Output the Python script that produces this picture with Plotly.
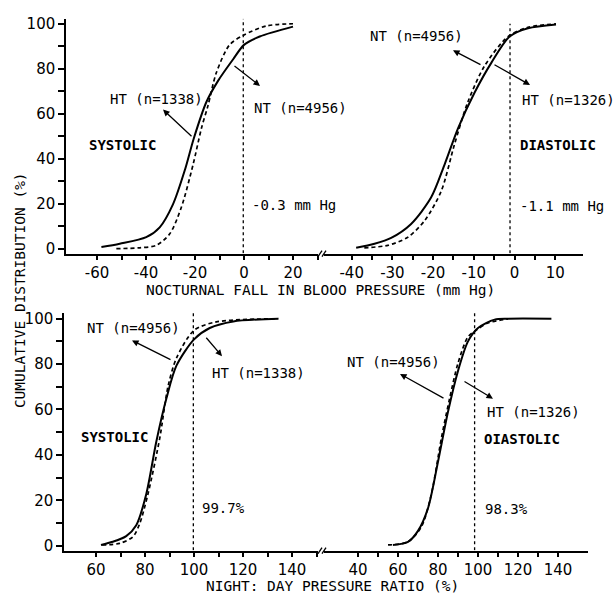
import plotly.graph_objects as go

W, H = 615, 597

# ---------------- data ----------------
# Top-left: nocturnal fall, systolic (mm Hg) vs cumulative %
sys_fall_ht_x = [-58.2, -50.7, -39.9, -34.4, -29.0, -24.1, -20.5, -15.4, -10.6, -4.5, 0.0, 6.4, 20.0]
sys_fall_ht_y = [0.7, 2.2, 5.1, 9.5, 19.7, 35.1, 49.0, 65.1, 74.6, 84.1, 90.6, 94.3, 98.7]
sys_fall_nt_x = [-52.1, -42.6, -35.8, -30.3, -25.6, -20.8, -17.4, -14.7, -11.3, -5.9, 0.0, 9.1, 20.0]
sys_fall_nt_y = [0.0, 0.4, 1.5, 6.6, 18.3, 37.3, 53.4, 63.6, 78.2, 90.6, 95.0, 99.0, 100.0]

# Top-right: nocturnal fall, diastolic
dia_fall_ht_x = [-38.9, -34.4, -30.3, -25.4, -20.5, -17.2, -13.9, -9.8, -5.7, -1.2, 3.3, 10.2]
dia_fall_ht_y = [0.4, 2.2, 4.8, 11.0, 22.7, 37.3, 53.4, 69.4, 82.6, 94.3, 98.0, 99.7]
dia_fall_nt_x = [-36.9, -31.1, -26.2, -22.1, -18.0, -14.8, -11.5, -7.4, -1.6, 3.3, 10.2]
dia_fall_nt_y = [0.4, 1.5, 5.1, 12.4, 25.6, 46.0, 65.0, 81.1, 94.3, 98.4, 99.9]

# Bottom-left: night:day ratio, systolic (%)
sys_ratio_ht_x = [62.0, 66.8, 72.3, 76.4, 80.5, 84.6, 88.7, 92.8, 100.0, 106.4, 116.0, 134.4]
sys_ratio_ht_y = [0.3, 1.7, 4.2, 9.0, 22.8, 45.9, 64.8, 79.3, 90.9, 95.9, 98.8, 100.0]
sys_ratio_nt_x = [62.5, 69.6, 75.0, 77.8, 81.2, 86.0, 89.4, 92.8, 100.0, 109.1, 134.4]
sys_ratio_nt_y = [0.3, 1.0, 3.9, 9.7, 22.8, 47.4, 70.3, 82.6, 94.9, 98.6, 100.0]

# Bottom-right: night:day ratio, diastolic
dia_ratio_ht_x = [57.5, 65.0, 70.0, 75.0, 80.0, 85.0, 90.0, 95.0, 100.0, 108.3, 115.0, 136.7]
dia_ratio_ht_y = [0.3, 1.7, 6.5, 16.5, 37.0, 59.0, 77.0, 90.0, 95.9, 99.6, 100.0, 100.0]
dia_ratio_nt_x = [55.0, 65.0, 71.7, 76.7, 81.7, 85.8, 90.0, 95.0, 99.2, 105.0, 115.0]
dia_ratio_nt_y = [0.3, 1.7, 8.3, 22.8, 47.4, 64.8, 80.4, 92.0, 95.0, 98.1, 99.9]

# reference (median difference) lines
ref_values = [-0.3, -1.1, 99.7, 98.3]

y_ticks = [0, 10, 20, 30, 40, 50, 60, 70, 80, 90, 100]
y_labels = ["0", "", "20", "", "40", "", "60", "", "80", "", "100"]
x1_ticks = [-60, -50, -40, -30, -20, -10, 0, 10, 20, 30]
x1_labels = ["-60", "", "-40", "", "-20", "", "0", "", "20", ""]
x2_ticks = [-40, -35, -30, -25, -20, -15, -10, -5, 0, 5, 10]
x2_labels = ["-40", "", "-30", "", "-20", "", "-10", "", "0", "", "10"]
x3_ticks = [60, 70, 80, 90, 100, 110, 120, 130, 140, 150]
x3_labels = ["60", "", "80", "", "100", "", "120", "", "140", ""]
x4_ticks = [40, 50, 60, 70, 80, 90, 100, 110, 120, 130, 140]
x4_labels = ["40", "", "60", "", "80", "", "100", "", "120", "", "140"]

# ---------------- figure ----------------
def px(x):
    return x / W

def py(y):
    return 1 - y / H

fig = go.Figure()

SOLID = dict(color="black", width=2.0, shape="spline", smoothing=0.8)
DASH = dict(color="black", width=1.7, dash="4px,3px", shape="spline", smoothing=0.8)

panels = [
    ("x", "y", sys_fall_ht_x, sys_fall_ht_y, sys_fall_nt_x, sys_fall_nt_y),
    ("x2", "y2", dia_fall_ht_x, dia_fall_ht_y, dia_fall_nt_x, dia_fall_nt_y),
    ("x3", "y3", sys_ratio_ht_x, sys_ratio_ht_y, sys_ratio_nt_x, sys_ratio_nt_y),
    ("x4", "y4", dia_ratio_ht_x, dia_ratio_ht_y, dia_ratio_nt_x, dia_ratio_nt_y),
]
for xa, ya, hx, hy, nx, ny in panels:
    fig.add_trace(go.Scatter(x=hx, y=hy, mode="lines", line=SOLID, xaxis=xa, yaxis=ya,
                             showlegend=False, hoverinfo="skip"))
    fig.add_trace(go.Scatter(x=nx, y=ny, mode="lines", line=DASH, xaxis=xa, yaxis=ya,
                             showlegend=False, hoverinfo="skip"))

TICKFONT = dict(family="DejaVu Sans", size=15, color="black")
common_x = dict(showline=True, linecolor="black", linewidth=1.5, ticks="outside",
                ticklen=5, tickwidth=1.5, tickcolor="black", showgrid=False,
                zeroline=False, tickmode="array", tickfont=TICKFONT, fixedrange=True)
common_y = dict(showgrid=False, zeroline=False, fixedrange=True)

top_dom = [py(253), py(15)]
bot_dom = [py(554), py(313)]

fig.update_layout(
    width=W, height=H, margin=dict(l=0, r=0, t=0, b=0),
    paper_bgcolor="white", plot_bgcolor="white", showlegend=False,
    xaxis=dict(domain=[px(66), px(318)], range=[-72.65, 30.2], anchor="y",
               tickvals=x1_ticks, ticktext=x1_labels, **common_x),
    xaxis2=dict(domain=[px(324), px(583)], range=[-46.8, 16.83], anchor="y2",
                tickvals=x2_ticks, ticktext=x2_labels, **common_x),
    xaxis3=dict(domain=[px(64), px(318)], range=[46.9, 150.6], anchor="y3",
                tickvals=x3_ticks, ticktext=x3_labels, **common_x),
    xaxis4=dict(domain=[px(324), px(588)], range=[23.0, 155.0], anchor="y4",
                tickvals=x4_ticks, ticktext=x4_labels, **common_x),
    yaxis=dict(domain=top_dom, range=[-2.19, 102.19], anchor="x",
               showline=True, linecolor="black", linewidth=1.5, ticks="outside",
               ticklen=6, tickwidth=1.5, tickcolor="black", tickmode="array",
               tickvals=y_ticks, ticktext=y_labels, tickfont=TICKFONT, **common_y),
    yaxis2=dict(domain=top_dom, range=[-2.19, 102.19], anchor="x2",
                showline=False, showticklabels=False, ticks="", **common_y),
    yaxis3=dict(domain=bot_dom, range=[-2.17, 102.6], anchor="x3",
                showline=True, linecolor="black", linewidth=1.5, ticks="outside",
                ticklen=6, tickwidth=1.5, tickcolor="black", tickmode="array",
                tickvals=y_ticks, ticktext=y_labels, tickfont=TICKFONT, **common_y),
    yaxis4=dict(domain=bot_dom, range=[-2.17, 102.6], anchor="x4",
                showline=False, showticklabels=False, ticks="", **common_y),
)

# vertical dashed reference lines
for (xa, ya), v, top in zip([("x", "y"), ("x2", "y2"), ("x3", "y3"), ("x4", "y4")],
                            ref_values, [102.19, 100.0, 102.6, 102.6]):
    fig.add_shape(type="line", xref=xa, yref=ya, x0=v, x1=v, y0=-2.0, y1=top,
                  line=dict(color="black", width=1.3, dash="3px,3px"))

# axis break marks
for yb in (253, 554):
    for xb in (320, 324):
        fig.add_shape(type="line", xref="paper", yref="paper",
                      x0=px(xb - 2), y0=py(yb + 3), x1=px(xb + 2), y1=py(yb - 3),
                      line=dict(color="black", width=1.3))

TXT = dict(family="DejaVu Sans Mono", size=14, color="black")
TXTB = dict(family="DejaVu Sans Mono", size=14, color="black", weight="bold")
TITLE = dict(family="DejaVu Sans Mono", size=14.5, color="black")

labels = [
    ("HT (n=1338)", 108, 96, TXT),
    ("NT (n=4956)", 252, 105, TXT),
    ("SYSTOLIC", 87, 143, TXTB),
    ("-0.3 mm Hg", 250, 204, TXT),
    ("NT (n=4956)", 368, 32, TXT),
    ("HT (n=1326)", 520, 97, TXT),
    ("DIASTOLIC", 518, 143, TXTB),
    ("-1.1 mm Hg", 518, 205, TXT),
    ("NT (n=4956)", 85, 328, TXT),
    ("HT (n=1338)", 210, 374, TXT),
    ("SYSTOLIC", 79, 439, TXTB),
    ("99.7%", 200, 511, TXT),
    ("NT (n=4956)", 345, 363, TXT),
    ("HT (n=1326)", 485, 414, TXT),
    ("OIASTOLIC", 482, 441, TXTB),
    ("98.3%", 483, 512, TXT),
]
for t, x, y, f in labels:
    fig.add_annotation(text=t, x=px(x), y=py(y), xref="paper", yref="paper",
                       xanchor="left", yanchor="middle", showarrow=False, font=f)

# arrows: (head_x, head_y, tail_x, tail_y) in pixels
arrows = [
    (163, 107, 193, 135),
    (260, 83, 233, 62),
    (453, 47, 482, 62),
    (530, 82, 493, 61),
    (132, 341, 172, 361),
    (222, 357, 205, 337),
    (400, 375, 445, 400),
    (493, 400, 463, 382),
]
for hx, hy, tx, ty in arrows:
    fig.add_annotation(text="", x=px(hx), y=py(hy), xref="paper", yref="paper",
                       ax=tx - hx, ay=ty - hy, showarrow=True, arrowhead=2,
                       arrowsize=1, arrowwidth=1.3, arrowcolor="black")

# axis titles
fig.add_annotation(text="NOCTURNAL FALL IN BLOOO PRESSURE (mm Hg)", x=px(320), y=py(290),
                   xref="paper", yref="paper", xanchor="center", yanchor="middle",
                   showarrow=False, font=TITLE)
fig.add_annotation(text="NIGHT: DAY PRESSURE RATIO (%)", x=px(332), y=py(590),
                   xref="paper", yref="paper", xanchor="center", yanchor="middle",
                   showarrow=False, font=TITLE)
fig.add_annotation(text="CUMULATIVE DISTRIBUTION (%)", x=px(20), y=py(290),
                   xref="paper", yref="paper", xanchor="center", yanchor="middle",
                   textangle=-90, showarrow=False, font=TITLE)

fig.write_html("out.html", config={"displayModeBar": False},
               post_script="document.body.style.margin='0px';document.body.style.overflow='hidden';")
